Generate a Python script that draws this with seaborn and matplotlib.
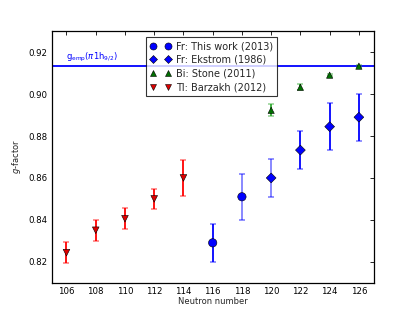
import pandas as pd
import seaborn as sns
from matplotlib import pyplot as plt

# Fr: this work (2013)
fr_new_n = [116, 118]
fr_new_g = [0.829, 0.851]
fr_new_err = [0.009, 0.011]

# Fr: Ekstrom (1986)
fr_old_n = [120, 122, 124, 126]
fr_old_g = [0.860, 0.8733, 0.8845, 0.889]
fr_old_err = [0.009, 0.0089, 0.0111, 0.0112]

# Bi: Stone (2011)
bi_n = [120, 122, 124, 126]
bi_g = [0.8923, 0.9033, 0.9091, 0.9134]
bi_err = [0.0028, 0.0015, 0.0004, 0.0004]

# Tl: Barzakh (2012)
tl_n = [106, 108, 110, 112, 114]
tl_g = [0.8243, 0.8350, 0.8405, 0.8500, 0.8600]
tl_err = [0.0050, 0.0050, 0.0050, 0.0049, 0.0087]

g_emp = 0.9135

sns.set_style("white")
plt.rcParams['font.family'] = ['DejaVu Sans']
plt.rcParams['xtick.direction'] = 'in'
plt.rcParams['ytick.direction'] = 'in'
plt.rcParams['xtick.top'] = True
plt.rcParams['ytick.right'] = True

fig = plt.figure(figsize=(4.15, 3.14), dpi=100)
ax = fig.add_axes([0.125, 0.1, 0.775, 0.8])

ax.axhline(g_emp, color='#0000ff', lw=1.3, zorder=1)
ax.text(106.0, g_emp + 0.0008, r'g$_{\rm emp}$($\pi$1h$_{9/2}$)', color='#0000ff',
        fontsize=6, va='bottom')

series = [
    ('Fr: This work (2013)', fr_new_n, fr_new_g, fr_new_err, 'o', '#0000ff', 6),
    ('Fr: Ekstrom (1986)', fr_old_n, fr_old_g, fr_old_err, 'D', '#0000ff', 5),
    ('Bi: Stone (2011)', bi_n, bi_g, bi_err, '^', '#007000', 4.5),
    ('Tl: Barzakh (2012)', tl_n, tl_g, tl_err, 'v', '#dd0000', 4.8),
]
# error lines drawn lighter in the original
light = {118, 120}

rows = []
for name, n, g, e, m, c, s in series:
    ebc = '#ff0000' if c == '#dd0000' else ('#33aa33' if c == '#007000' else c)
    for i in range(len(n)):
        a = 0.5 if (c == '#0000ff' and n[i] in light) else 1.0
        eb = ax.errorbar([n[i]], [g[i]], yerr=[e[i]], fmt='none', ecolor=ebc,
                         elinewidth=1.3, capsize=2.5, capthick=1.2, zorder=2)
        eb[2][0].set_alpha(a)
        for cap in eb[1]:
            cap.set_alpha(0.5)
        rows.append({'N': n[i], 'g': g[i], 'src': name})

df = pd.DataFrame(rows)
markers = {s[0]: s[4] for s in series}
palette = {s[0]: s[5] for s in series}
sizes = {s[0]: s[6] ** 2 for s in series}
sns.scatterplot(data=df, x='N', y='g', hue='src', style='src', size='src',
                markers=markers, palette=palette, sizes=sizes,
                edgecolor='black', linewidth=0.4, zorder=3, ax=ax)

handles, labels = ax.get_legend_handles_labels()
for h, s in zip(handles, series):
    h.set_markersize(s[6] * 0.85)
    h.set_markeredgewidth(0.4)
    h.set_markeredgecolor('black')
leg = ax.legend(handles, labels, loc='upper center', bbox_to_anchor=(0.497, 0.985),
                numpoints=2, scatterpoints=2, fontsize=7, frameon=True,
                fancybox=False, edgecolor='black', handletextpad=0.6,
                borderpad=0.4, labelspacing=0.38, handlelength=2.1,
                borderaxespad=0.2)
leg.get_frame().set_linewidth(0.8)

ax.set_xlim(105, 127)
ax.set_ylim(0.81, 0.93)
ax.set_xticks(range(106, 127, 2))
ax.set_yticks([0.82, 0.84, 0.86, 0.88, 0.90, 0.92])
ax.set_yticklabels(['0.82', '0.84', '0.86', '0.88', '0.90', '0.92'])
ax.tick_params(labelsize=6.2, length=3, width=0.6, colors='black', pad=3)
ax.set_xlabel('Neutron number', fontsize=6, labelpad=1)
ax.set_ylabel(r'$g$-factor', fontsize=6, labelpad=4)
for sp in ax.spines.values():
    sp.set_color('black')
    sp.set_linewidth(0.9)

fig.savefig('out.png', dpi=100)
